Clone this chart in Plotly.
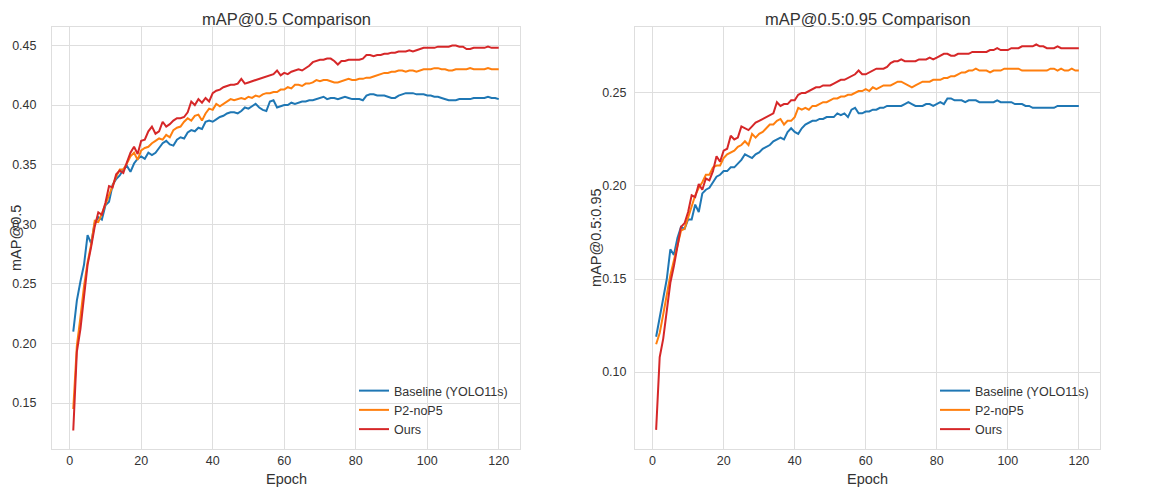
import plotly.graph_objects as go

epochs = list(range(1, 121))

# mAP@0.5
base_50 = [
    0.210, 0.236, 0.252, 0.266, 0.291, 0.284, 0.301, 0.306, 0.304, 0.316,
    0.319, 0.333, 0.338, 0.341, 0.346, 0.349, 0.344, 0.351, 0.355, 0.357,
    0.355, 0.360, 0.358, 0.360, 0.364, 0.368, 0.370, 0.367, 0.366, 0.371,
    0.373, 0.372, 0.377, 0.379, 0.378, 0.381, 0.380, 0.386, 0.387, 0.386,
    0.388, 0.390, 0.391, 0.393, 0.394, 0.394, 0.393, 0.395, 0.398, 0.397,
    0.399, 0.401, 0.398, 0.396, 0.395, 0.403, 0.404, 0.398, 0.399, 0.400,
    0.400, 0.402, 0.401, 0.402, 0.403, 0.403, 0.404, 0.404, 0.405, 0.406,
    0.407, 0.405, 0.406, 0.406, 0.405, 0.406, 0.407, 0.406, 0.405, 0.405,
    0.405, 0.404, 0.408, 0.409, 0.409, 0.408, 0.408, 0.408, 0.407, 0.406,
    0.406, 0.408, 0.409, 0.410, 0.410, 0.410, 0.409, 0.409, 0.409, 0.408,
    0.408, 0.407, 0.407, 0.406, 0.405, 0.404, 0.404, 0.404, 0.405, 0.405,
    0.405, 0.405, 0.406, 0.406, 0.406, 0.406, 0.407, 0.406, 0.406, 0.405,
]
p2_50 = [
    0.145, 0.198, 0.222, 0.248, 0.268, 0.283, 0.303, 0.302, 0.309, 0.317,
    0.325, 0.333, 0.340, 0.346, 0.346, 0.351, 0.357, 0.360, 0.354, 0.362,
    0.364, 0.365, 0.368, 0.370, 0.372, 0.371, 0.375, 0.373, 0.379, 0.381,
    0.382, 0.386, 0.389, 0.387, 0.391, 0.392, 0.387, 0.393, 0.397, 0.396,
    0.401, 0.399, 0.401, 0.403, 0.405, 0.404, 0.405, 0.406, 0.405, 0.407,
    0.406, 0.408, 0.407, 0.409, 0.410, 0.410, 0.411, 0.411, 0.413, 0.413,
    0.415, 0.414, 0.417, 0.417, 0.416, 0.418, 0.418, 0.419, 0.421, 0.420,
    0.421, 0.421, 0.420, 0.419, 0.419, 0.420, 0.421, 0.422, 0.421, 0.421,
    0.422, 0.422, 0.423, 0.423, 0.424, 0.425, 0.426, 0.427, 0.427, 0.428,
    0.428, 0.429, 0.429, 0.428, 0.429, 0.429, 0.428, 0.429, 0.430, 0.430,
    0.430, 0.431, 0.431, 0.430, 0.430, 0.429, 0.429, 0.430, 0.430, 0.430,
    0.430, 0.431, 0.430, 0.430, 0.430, 0.430, 0.431, 0.430, 0.430, 0.430,
]
ours_50 = [
    0.127, 0.193, 0.212, 0.240, 0.266, 0.281, 0.298, 0.310, 0.308, 0.318,
    0.332, 0.331, 0.342, 0.345, 0.343, 0.352, 0.360, 0.365, 0.359, 0.370,
    0.371, 0.378, 0.382, 0.376, 0.378, 0.386, 0.382, 0.384, 0.387, 0.389,
    0.389, 0.390, 0.394, 0.403, 0.400, 0.405, 0.402, 0.406, 0.403, 0.410,
    0.412, 0.413, 0.415, 0.416, 0.417, 0.417, 0.418, 0.422, 0.418, 0.419,
    0.420, 0.421, 0.422, 0.423, 0.424, 0.425, 0.426, 0.429, 0.425, 0.427,
    0.426, 0.428, 0.429, 0.430, 0.429, 0.431, 0.433, 0.436, 0.437, 0.438,
    0.438, 0.439, 0.439, 0.437, 0.434, 0.437, 0.437, 0.438, 0.438, 0.438,
    0.438, 0.439, 0.442, 0.442, 0.441, 0.442, 0.442, 0.443, 0.443, 0.444,
    0.444, 0.445, 0.445, 0.445, 0.446, 0.445, 0.446, 0.447, 0.448, 0.448,
    0.448, 0.448, 0.449, 0.449, 0.449, 0.449, 0.450, 0.450, 0.449, 0.449,
    0.447, 0.447, 0.448, 0.448, 0.448, 0.448, 0.449, 0.448, 0.448, 0.448,
]

# mAP@0.5:0.95
base_95 = [
    0.119, 0.130, 0.141, 0.150, 0.166, 0.163, 0.172, 0.178, 0.177, 0.182,
    0.182, 0.190, 0.186, 0.196, 0.198, 0.199, 0.202, 0.205, 0.206, 0.208,
    0.208, 0.210, 0.210, 0.212, 0.214, 0.217, 0.216, 0.215, 0.217, 0.218,
    0.220, 0.221, 0.222, 0.224, 0.225, 0.226, 0.225, 0.229, 0.231, 0.229,
    0.228, 0.231, 0.233, 0.234, 0.235, 0.235, 0.236, 0.236, 0.237, 0.237,
    0.237, 0.239, 0.238, 0.239, 0.237, 0.241, 0.242, 0.239, 0.239, 0.240,
    0.240, 0.241, 0.241, 0.242, 0.242, 0.243, 0.243, 0.243, 0.243, 0.243,
    0.244, 0.245, 0.244, 0.243, 0.243, 0.243, 0.244, 0.244, 0.243, 0.244,
    0.245, 0.244, 0.247, 0.247, 0.246, 0.246, 0.246, 0.245, 0.246, 0.246,
    0.246, 0.245, 0.245, 0.245, 0.245, 0.245, 0.246, 0.245, 0.245, 0.245,
    0.245, 0.244, 0.244, 0.244, 0.243, 0.243, 0.242, 0.242, 0.242, 0.242,
    0.242, 0.242, 0.242, 0.243, 0.243, 0.243, 0.243, 0.243, 0.243, 0.243,
]
p2_95 = [
    0.115, 0.121, 0.131, 0.142, 0.152, 0.160, 0.168, 0.176, 0.177, 0.183,
    0.188, 0.195, 0.199, 0.202, 0.206, 0.206, 0.210, 0.211, 0.211, 0.215,
    0.217, 0.218, 0.219, 0.221, 0.222, 0.224, 0.222, 0.228, 0.226, 0.228,
    0.229, 0.231, 0.233, 0.233, 0.235, 0.236, 0.233, 0.235, 0.235, 0.237,
    0.242, 0.241, 0.242, 0.241, 0.243, 0.243, 0.244, 0.245, 0.245, 0.246,
    0.247, 0.247, 0.248, 0.248, 0.249, 0.249, 0.250, 0.251, 0.251, 0.252,
    0.251, 0.253, 0.252, 0.253, 0.254, 0.254, 0.254, 0.255, 0.256, 0.256,
    0.255, 0.254, 0.253, 0.254, 0.255, 0.256, 0.256, 0.256, 0.257, 0.257,
    0.257, 0.258, 0.258, 0.259, 0.259, 0.260, 0.261, 0.261, 0.262, 0.262,
    0.263, 0.262, 0.262, 0.262, 0.261, 0.262, 0.262, 0.262, 0.263, 0.263,
    0.263, 0.263, 0.263, 0.262, 0.262, 0.262, 0.262, 0.262, 0.262, 0.262,
    0.262, 0.263, 0.263, 0.262, 0.263, 0.262, 0.262, 0.263, 0.262, 0.262,
]
ours_95 = [
    0.069, 0.108, 0.118, 0.133, 0.148, 0.157, 0.168, 0.178, 0.180, 0.186,
    0.195, 0.194, 0.201, 0.198, 0.204, 0.203, 0.208, 0.216, 0.213, 0.219,
    0.220, 0.227, 0.225, 0.226, 0.232, 0.231, 0.230, 0.232, 0.234, 0.235,
    0.236, 0.237, 0.238, 0.239, 0.245, 0.243, 0.244, 0.244, 0.246, 0.246,
    0.249, 0.250, 0.250, 0.251, 0.252, 0.253, 0.253, 0.254, 0.254, 0.254,
    0.255, 0.256, 0.257, 0.257, 0.258, 0.259, 0.260, 0.262, 0.260, 0.260,
    0.261, 0.262, 0.263, 0.263, 0.263, 0.264, 0.266, 0.267, 0.267, 0.268,
    0.267, 0.267, 0.267, 0.267, 0.268, 0.268, 0.268, 0.269, 0.268, 0.269,
    0.270, 0.271, 0.271, 0.270, 0.270, 0.271, 0.271, 0.271, 0.271, 0.272,
    0.272, 0.272, 0.272, 0.272, 0.273, 0.273, 0.274, 0.273, 0.273, 0.273,
    0.274, 0.274, 0.274, 0.275, 0.275, 0.275, 0.275, 0.276, 0.275, 0.275,
    0.274, 0.274, 0.274, 0.275, 0.274, 0.274, 0.274, 0.274, 0.274, 0.274,
]

names = ["Baseline (YOLO11s)", "P2-noP5", "Ours"]
colors = ["#1f77b4", "#ff7f0e", "#d62728"]
x_ticks = [0, 20, 40, 60, 80, 100, 120]
y_ticks_50 = [0.15, 0.20, 0.25, 0.30, 0.35, 0.40, 0.45]
y_ticks_95 = [0.10, 0.15, 0.20, 0.25]

FONT = "Liberation Sans, Arial, sans-serif"
TXT = "#333333"
GRID = "#dedede"

fig = go.Figure()
for name, col, ys in zip(names, colors, [base_50, p2_50, ours_50]):
    fig.add_trace(go.Scatter(x=epochs, y=ys, mode="lines", name=name,
                             line=dict(color=col, width=2),
                             xaxis="x", yaxis="y", legend="legend"))
for name, col, ys in zip(names, colors, [base_95, p2_95, ours_95]):
    fig.add_trace(go.Scatter(x=epochs, y=ys, mode="lines", name=name,
                             line=dict(color=col, width=2),
                             xaxis="x2", yaxis="y2", legend="legend2"))

# page body has an 8px margin: figure is shrunk and coords offset
OFF = 8
W, H = 1160 - OFF, 491 - OFF
def px(v):
    return (v - OFF) / W
def py(v):
    return 1 - (v - OFF) / H

y_top, y_bot = 27, 449
lx0, lx1 = 52, 520
rx0, rx1 = 635, 1100

def xaxis(domain, anchor):
    return dict(domain=domain, anchor=anchor, range=[-4.95, 125.95],
                tickvals=x_ticks, showgrid=True, gridcolor=GRID, gridwidth=1,
                zeroline=False, showline=True, linecolor=GRID, linewidth=1, mirror=True,
                ticks="", ticklabelstandoff=0,
                tickfont=dict(family=FONT, size=12.5, color=TXT))

def yaxis(domain, anchor, rng, tv, fmt, standoff):
    return dict(domain=domain, anchor=anchor, range=rng, tickvals=tv,
                tickformat=fmt, showgrid=True, gridcolor=GRID, gridwidth=1,
                zeroline=False, showline=True, linecolor=GRID, linewidth=1, mirror=True,
                ticks="", ticklabelstandoff=standoff,
                tickfont=dict(family=FONT, size=12.5, color=TXT))

ydom = [py(y_bot), py(y_top)]
fig.update_layout(
    width=W, height=H,
    margin=dict(l=0, r=0, t=0, b=0),
    paper_bgcolor="white", plot_bgcolor="white",
    font=dict(family=FONT, color=TXT),
    xaxis=xaxis([px(lx0), px(lx1)], "y"),
    yaxis=yaxis(ydom, "x", [0.1115, 0.4655], y_ticks_50, ".2f", 12),
    xaxis2=xaxis([px(rx0), px(rx1)], "y2"),
    yaxis2=yaxis(ydom, "x2", [0.0587, 0.2854], y_ticks_95, ".2f", 5),
    legend=dict(x=px(513), y=py(444), xanchor="right", yanchor="bottom",
                bgcolor="rgba(255,255,255,0)", borderwidth=0,
                font=dict(family=FONT, size=12.5, color=TXT), tracegroupgap=0),
    legend2=dict(x=px(1094), y=py(444), xanchor="right", yanchor="bottom",
                 bgcolor="rgba(255,255,255,0)", borderwidth=0,
                 font=dict(family=FONT, size=12.5, color=TXT), tracegroupgap=0),
    showlegend=True,
)

annots = [
    dict(text="mAP@0.5 Comparison", x=px((lx0 + lx1) / 2), y=py(8), size=16.5, anchor="top"),
    dict(text="mAP@0.5:0.95 Comparison", x=px((rx0 + rx1) / 2), y=py(8), size=16.5, anchor="top"),
    dict(text="Epoch", x=px((lx0 + lx1) / 2), y=py(479), size=14.5, anchor="middle"),
    dict(text="Epoch", x=px((rx0 + rx1) / 2), y=py(479), size=14.5, anchor="middle"),
]
for a in annots:
    fig.add_annotation(text=a["text"], x=a["x"], y=a["y"], xref="paper", yref="paper",
                       xanchor="center", yanchor=a["anchor"], showarrow=False,
                       font=dict(family=FONT, size=a["size"], color=TXT))
for text, xc in [("mAP@0.5", 16), ("mAP@0.5:0.95", 596)]:
    fig.add_annotation(text=text, x=px(xc), y=py((y_top + y_bot) / 2), xref="paper", yref="paper",
                       xanchor="center", yanchor="middle", showarrow=False, textangle=-90,
                       font=dict(family=FONT, size=14.5, color=TXT))

fig.write_html("out.html")
